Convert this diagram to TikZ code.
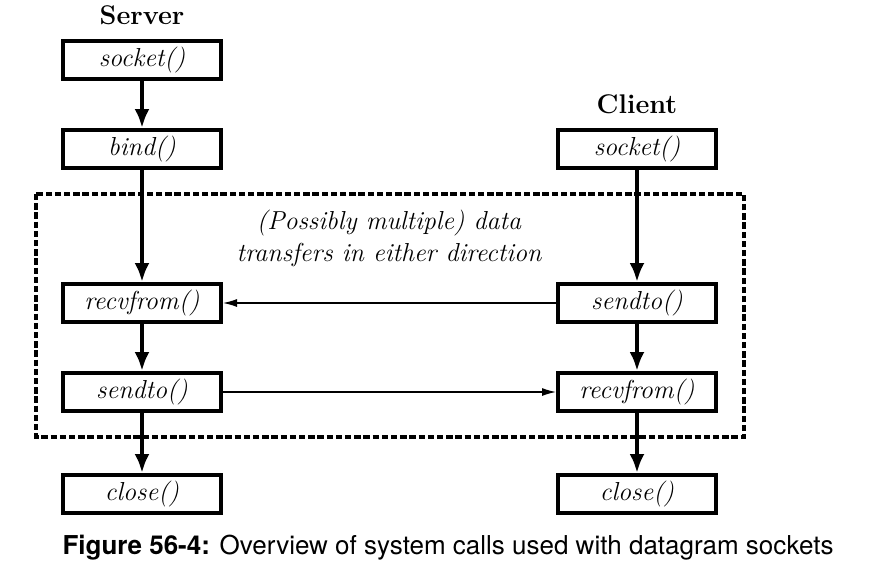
\documentclass[tikz,border=0pt]{standalone}
\usepackage{fontspec}
\newfontfamily\capfont{TeX Gyre Heros}
\usetikzlibrary{arrows.meta,positioning}

\begin{document}
\begin{tikzpicture}[x=0.5pt,y=-0.5pt]
                \tikzstyle{call} = [shape=rectangle, draw, line width=2pt, minimum width=79pt, minimum height=19pt, inner sep=0pt, font=\fontsize{13}{15}\selectfont\itshape];
                \tikzstyle{side} = [font=\fontsize{13.5}{16}\selectfont\bfseries];
                \tikzstyle{flow} = [-{Latex[length=9.5pt,width=7.5pt]}, line width=2pt];
                \tikzstyle{msg} = [-{Latex[length=7pt,width=4pt]}, line width=0.6pt];
                \tikzstyle{dashbox} = [dash pattern=on 3.2pt off 1.4pt, line width=1.7pt];

                \useasboundingbox (0,0) rectangle (872,584);

                \draw[dashbox] (36,194) rectangle (744,437);

                \node[side](SL) at (142,15) {Server};
                \node[side](CL) at (637,104) {Client};

                \node[call](SS) at (142,60) {socket()};
                \node[call](SB) at (142,149) {bind()};
                \node[call](SR) at (142,303) {recvfrom()};
                \node[call](SD) at (142,392) {sendto()};
                \node[call](SC) at (142,494) {close()};

                \node[call](CS) at (637,149) {socket()};
                \node[call](CD) at (637,303) {sendto()};
                \node[call](CR) at (637,392) {recvfrom()};
                \node[call](CC) at (637,494) {close()};

                \node[align=center, font=\fontsize{13}{16}\selectfont\itshape](T) at (389,238)
                    {(Possibly multiple) data\\transfers in either direction};

                \draw[flow]
                    (SS) edge (SB)
                    (SB) edge (SR)
                    (SR) edge (SD)
                    (SD) edge (SC)
                    (CS) edge (CD)
                    (CD) edge (CR)
                    (CR) edge (CC)
                ;
                \draw[msg]
                    (CD) edge (SR)
                    (SD) edge (CR)
                ;

                \node(F) at (448,548) {\capfont\fontsize{13}{15}\selectfont\textbf{Figure 56-4:} Overview of system calls used with datagram sockets};
            \end{tikzpicture}
\end{document}
